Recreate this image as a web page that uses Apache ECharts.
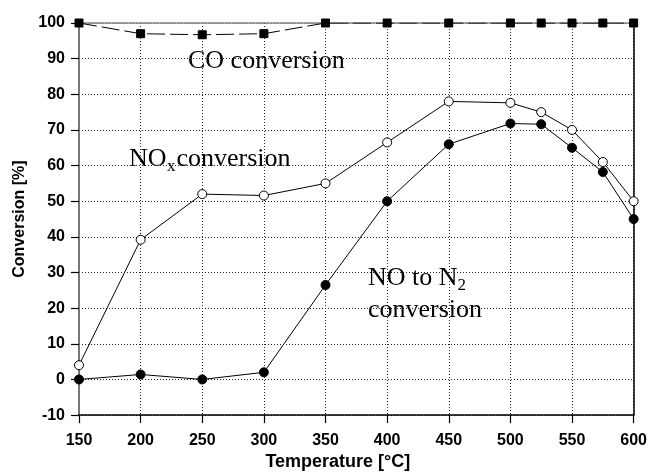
<!DOCTYPE html>
<html>
<head>
<meta charset="utf-8">
<script src="https://cdn.jsdelivr.net/npm/echarts@6/dist/echarts.min.js"></script>
<style>
  html, body { margin: 0; padding: 0; background: #fff; }
  #chart { width: 650px; height: 476px; }
</style>
</head>
<body>
<div id="chart"></div>
<script>
// Temperature steps (°C) and the measured conversions (%)
const temps = [150, 200, 250, 300, 350, 400, 450, 500, 525, 550, 575, 600];
const coConv = [100, 97, 96.7, 97, 100, 100, 100, 100, 100, 100, 100, 100];
const noxConv = [4, 39.2, 52, 51.6, 55, 66.5, 78, 77.6, 75, 70, 61, 50];
const noN2Conv = [0, 1.4, 0, 2, 26.5, 50, 66, 71.8, 71.6, 65, 58.2, 45];

const xTicks = { min: 150, max: 600, interval: 50 };
const yTicks = { min: -10, max: 100, interval: 10 };

const pairs = (ys) => temps.map((t, i) => [t, ys[i]]);

const sans = 'Liberation Sans';

const dotted = { color: '#222', width: 1, type: [1, 2] };

const chart = echarts.init(document.getElementById('chart'), null, { renderer: 'canvas' });

chart.setOption({
  animation: false,
  backgroundColor: '#fff',
  grid: { left: 79, right: 14, top: 23, bottom: 60 },
  xAxis: [
    {
      type: 'value', position: 'bottom',
      min: xTicks.min, max: xTicks.max, interval: xTicks.interval,
      axisLine: { show: true, onZero: false, lineStyle: { color: '#000', width: 1.5 } },
      axisTick: { show: true, inside: false, length: 8, lineStyle: { color: '#000', width: 1.2 } },
      axisLabel: { margin: 17, fontFamily: sans, fontWeight: 'bold', fontSize: 16, color: '#000' },
      splitLine: { show: true, lineStyle: dotted },
      name: 'Temperature [°C]', nameLocation: 'middle', nameGap: 37,
      nameTextStyle: { fontFamily: sans, fontWeight: 'bold', fontSize: 18, color: '#000', padding: [0, 37, 0, 0] }
    },
    {
      type: 'value', position: 'top',
      min: xTicks.min, max: xTicks.max, interval: xTicks.interval,
      axisLine: { show: true, onZero: false, lineStyle: { color: '#888', width: 1.5 } },
      axisTick: { show: false }, axisLabel: { show: false }, splitLine: { show: false }
    }
  ],
  yAxis: [
    {
      type: 'value', position: 'left',
      min: yTicks.min, max: yTicks.max, interval: yTicks.interval,
      axisLine: { show: true, onZero: false, lineStyle: { color: '#777', width: 2 } },
      axisTick: { show: true, inside: false, length: 8, lineStyle: { color: '#000', width: 1.2 } },
      axisLabel: { margin: 14, fontFamily: sans, fontWeight: 'bold', fontSize: 16, color: '#000' },
      splitLine: { show: true, lineStyle: dotted },
      name: 'Conversion [%]', nameLocation: 'middle', nameGap: 50,
      nameTextStyle: { fontFamily: sans, fontWeight: 'bold', fontSize: 16, color: '#000' }
    },
    {
      type: 'value', position: 'right',
      min: yTicks.min, max: yTicks.max, interval: yTicks.interval,
      axisLine: { show: true, onZero: false, lineStyle: { color: '#000', width: 1.5 } },
      axisTick: { show: false }, axisLabel: { show: false }, splitLine: { show: false }
    }
  ],
  series: [
    {
      name: 'CO conversion', type: 'line', data: pairs(coConv),
      symbol: 'rect', symbolSize: 8,
      lineStyle: { color: '#000', width: 1, type: [18, 5] },
      itemStyle: { color: '#000', borderColor: '#000' },
      z: 3
    },
    {
      name: 'NOx conversion', type: 'line', data: pairs(noxConv),
      symbol: 'circle', symbolSize: 9, showAllSymbol: true,
      lineStyle: { color: '#000', width: 1 },
      itemStyle: { color: '#fff', borderColor: '#000', borderWidth: 1 },
      z: 4
    },
    {
      name: 'NO to N2 conversion', type: 'line', data: pairs(noN2Conv),
      symbol: 'circle', symbolSize: 9, showAllSymbol: true,
      lineStyle: { color: '#000', width: 1 },
      itemStyle: { color: '#000', borderColor: '#000', borderWidth: 1 },
      z: 4
    }
  ],
  graphic: [
    { type: 'text', x: 188, y: 61.4, style: { text: 'CO conversion', font: '26px "Liberation Serif"', fill: '#000', verticalAlign: 'middle' } },
    { type: 'text', x: 129, y: 159.4, style: { text: 'NO', font: '26px "Liberation Serif"', fill: '#000', verticalAlign: 'middle' } },
    { type: 'text', x: 167, y: 166.4, style: { text: 'x', font: '17px "Liberation Serif"', fill: '#000', verticalAlign: 'middle' } },
    { type: 'text', x: 176.5, y: 159.4, style: { text: 'conversion', font: '26px "Liberation Serif"', fill: '#000', verticalAlign: 'middle' } },
    { type: 'text', x: 368, y: 278, style: { text: 'NO to N', font: '26px "Liberation Serif"', fill: '#000', verticalAlign: 'middle' } },
    { type: 'text', x: 457.5, y: 285.4, style: { text: '2', font: '17px "Liberation Serif"', fill: '#000', verticalAlign: 'middle' } },
    { type: 'text', x: 368, y: 309.7, style: { text: 'conversion', font: '26px "Liberation Serif"', fill: '#000', verticalAlign: 'middle' } }
  ]
});
</script>
</body>
</html>
